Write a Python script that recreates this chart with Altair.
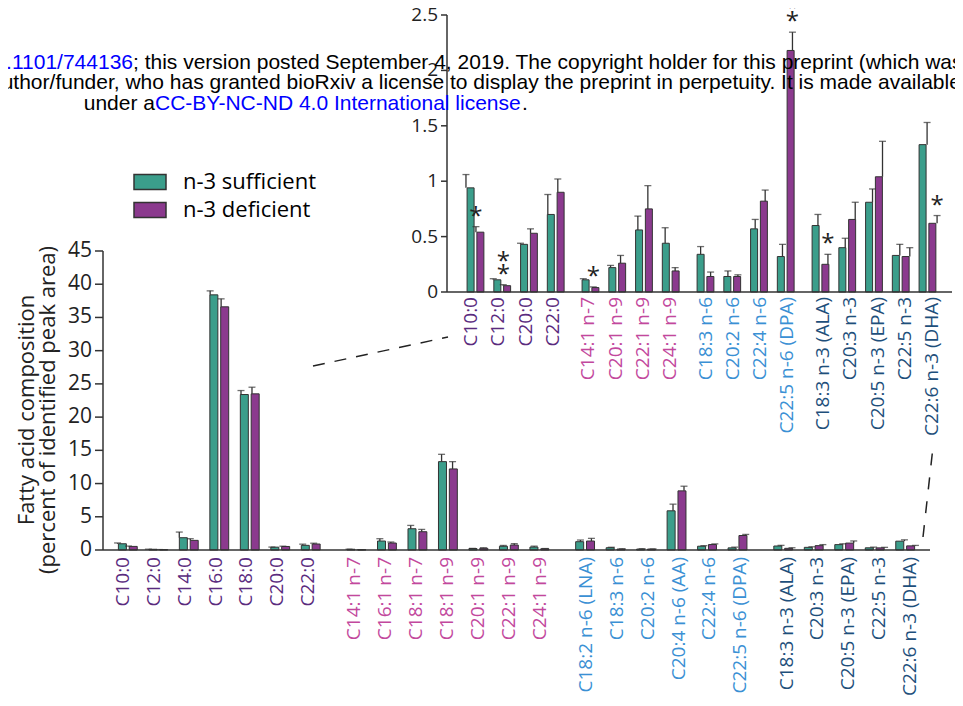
import altair as alt
import pandas as pd

# ---------------- data ----------------
categories = ["C10:0", "C12:0", "C14:0", "C16:0", "C18:0", "C20:0", "C22:0",
              "C14:1 n-7", "C16:1 n-7", "C18:1 n-7", "C18:1 n-9", "C20:1 n-9", "C22:1 n-9", "C24:1 n-9",
              "C18:2 n-6 (LNA)", "C18:3 n-6", "C20:2 n-6", "C20:4 n-6 (AA)", "C22:4 n-6", "C22:5 n-6 (DPA)",
              "C18:3 n-3 (ALA)", "C20:3 n-3", "C20:5 n-3 (EPA)", "C22:5 n-3", "C22:6 n-3 (DHA)"]
category_group = ["sat"] * 7 + ["mono"] * 7 + ["n6"] * 6 + ["n3"] * 5

suff_mean = [0.94, 0.11, 1.85, 38.4, 23.4, 0.43, 0.70,
             0.11, 1.35, 3.2, 13.3, 0.22, 0.56, 0.44,
             1.25, 0.34, 0.14, 5.9, 0.57, 0.32,
             0.60, 0.40, 0.81, 0.33, 1.33]
suff_sem = [0.12, 0.01, 0.85, 0.6, 0.6, 0.01, 0.18,
            0.01, 0.35, 0.5, 1.1, 0.02, 0.125, 0.14,
            0.25, 0.07, 0.05, 1.0, 0.085, 0.11,
            0.10, 0.085, 0.12, 0.10, 0.20]
def_mean = [0.54, 0.057, 1.45, 36.6, 23.5, 0.53, 0.90,
            0.04, 1.05, 2.75, 12.2, 0.26, 0.75, 0.19,
            1.35, 0.14, 0.14, 8.9, 0.82, 2.18,
            0.25, 0.655, 1.04, 0.32, 0.62]
def_sem = [0.05, 0.009, 0.25, 1.2, 1.0, 0.04, 0.12,
           0.006, 0.15, 0.35, 1.1, 0.07, 0.21, 0.03,
           0.4, 0.04, 0.015, 0.7, 0.10, 0.165,
           0.09, 0.155, 0.32, 0.08, 0.07]

inset_categories = ["C10:0", "C12:0", "C20:0", "C22:0",
                    "C14:1 n-7", "C20:1 n-9", "C22:1 n-9", "C24:1 n-9",
                    "C18:3 n-6", "C20:2 n-6", "C22:4 n-6", "C22:5 n-6 (DPA)",
                    "C18:3 n-3 (ALA)", "C20:3 n-3", "C20:5 n-3 (EPA)", "C22:5 n-3", "C22:6 n-3 (DHA)"]

star_categories = ["C10:0", "C12:0", "C14:1 n-7", "C22:5 n-6 (DPA)", "C18:3 n-3 (ALA)", "C22:6 n-3 (DHA)"]
star_counts = [1, 2, 1, 2, 1, 1]

diet_labels = ["n-3 sufficient", "n-3 deficient"]
main_ticks = [0, 5, 10, 15, 20, 25, 30, 35, 40, 45]
inset_ticks = [0, 0.5, 1, 1.5, 2, 2.5]
inset_tick_labels = ["0", "0.5", "1", "1.5", "2", "2.5"]

y_title_lines = ["Fatty acid composition", "(percent of identified peak area)"]

# ---------------- styles ----------------
GREEN = "#3b9e8b"
PURPLE = "#8b3a8e"
EDGE = "#333333"
FONT = "Open Sans"
group_names = ["sat", "mono", "n6", "n3"]
group_colors = ["#5a2b7e", "#c2489d", "#3a90d4", "#1e4f7b"]

W, H = 947, 690

main_starts = {"sat": 0, "mono": 7.5, "n6": 15, "n3": 21.5}
inset_starts = {"sat": 0, "mono": 4.3, "n6": 8.6, "n3": 12.9}

main_x = alt.Scale(domain=[-0.65, 26.15], range=[95, 922], nice=False, zero=False)
main_y = alt.Scale(domain=[0, 45], range=[542, 243], nice=False, zero=False)
inset_x = alt.Scale(domain=[-0.878, 17.63], range=[439, 944], nice=False, zero=False)
inset_y = alt.Scale(domain=[0, 2.5], range=[284, 7], nice=False, zero=False)


def positions(cats, starts):
    pos, count = [], {}
    for c in cats:
        g = category_group[categories.index(c)]
        j = count.get(g, 0)
        count[g] = j + 1
        pos.append(starts[g] + j)
    return pos


def build(cats, starts, off):
    pos = positions(cats, starts)
    bars, labels = [], []
    for c, p in zip(cats, pos):
        i = categories.index(c)
        g = category_group[i]
        labels.append({"cat": c, "grp": g, "pos": p})
        bars.append({"cat": c, "diet": diet_labels[0], "bx": p - off,
                     "mean": suff_mean[i], "top": suff_mean[i] + suff_sem[i]})
        bars.append({"cat": c, "diet": diet_labels[1], "bx": p + off,
                     "mean": def_mean[i], "top": def_mean[i] + def_sem[i]})
    return pd.DataFrame(bars), pd.DataFrame(labels)


main_bars, main_labels = build(categories, main_starts, 0.178)
inset_bars, inset_labels = build(inset_categories, inset_starts, 0.183)


def panel(bars, labels, xs, ys, bw, label_y, show_legend, xdom):
    layers = []
    legend = alt.Legend(orient="none", legendX=125, legendY=157, title=None,
                        symbolType="M-1,-0.47H1V0.47H-1Z", symbolSize=1024,
                        symbolStrokeColor=EDGE, symbolStrokeWidth=1.5, symbolOpacity=1,
                        labelFont=FONT, labelFontSize=22, labelColor="black",
                        labelOffset=16, rowPadding=-5, symbolOffset=0) if show_legend else None
    layers.append(alt.Chart(bars).mark_bar(size=bw, stroke=EDGE, strokeWidth=1, orient="vertical").encode(
        x=alt.X("bx:Q", scale=xs, axis=None),
        y=alt.Y("mean:Q", scale=ys, axis=None),
        y2=alt.datum(0),
        color=alt.Color("diet:N", scale=alt.Scale(domain=diet_labels, range=[GREEN, PURPLE]),
                        legend=legend),
    ))
    layers.append(alt.Chart(bars).mark_rule(color=EDGE, strokeWidth=1.3).encode(
        x=alt.X("bx:Q", scale=xs, axis=None),
        y=alt.Y("mean:Q", scale=ys, axis=None),
        y2="top:Q",
    ))
    layers.append(alt.Chart(bars).mark_tick(orient="horizontal", size=7, thickness=1.3, color=EDGE).encode(
        x=alt.X("bx:Q", scale=xs, axis=None),
        y=alt.Y("top:Q", scale=ys, axis=None),
    ))
    layers.append(alt.Chart(labels).mark_text(angle=270, align="right", baseline="middle",
                                              font=FONT, fontSize=19).encode(
        x=alt.X("pos:Q", scale=xs, axis=None),
        y=alt.value(label_y),
        text="cat:N",
        color=alt.Color("grp:N", scale=alt.Scale(domain=group_names, range=group_colors), legend=None),
    ))
    # axis lines
    ax = pd.DataFrame({"x0": [xdom[0]], "x1": [xdom[1]], "y0": [ys.domain[0]], "y1": [ys.domain[1]]})
    layers.append(alt.Chart(ax).mark_rule(color=EDGE, strokeWidth=1.5).encode(
        x=alt.X("x0:Q", scale=xs, axis=None), x2="x1:Q",
        y=alt.Y("y0:Q", scale=ys, axis=None),
    ))
    layers.append(alt.Chart(ax).mark_rule(color=EDGE, strokeWidth=1.5).encode(
        x=alt.X("x0:Q", scale=xs, axis=None),
        y=alt.Y("y0:Q", scale=ys, axis=None), y2="y1:Q",
    ))
    return layers


layers = []
layers += panel(main_bars, main_labels, main_x, main_y, 8, 549, True, [-0.65, 26.15])
layers += panel(inset_bars, inset_labels, inset_x, inset_y, 7, 289, False, [-0.878, 17.63])

# y axis ticks and labels
mt = pd.DataFrame({"v": main_ticks, "lab": [str(t) for t in main_ticks]})
layers.append(alt.Chart(mt).mark_rule(color=EDGE, strokeWidth=1.5).encode(
    x=alt.value(87), x2=alt.value(95), y=alt.Y("v:Q", scale=main_y, axis=None)))
layers.append(alt.Chart(mt).mark_text(align="right", baseline="middle", font=FONT, fontSize=21,
                                      color="#222").encode(
    x=alt.value(84), y=alt.Y("v:Q", scale=main_y, axis=None), text="lab:N"))
it = pd.DataFrame({"v": inset_ticks, "lab": inset_tick_labels})
layers.append(alt.Chart(it).mark_rule(color=EDGE, strokeWidth=1.5).encode(
    x=alt.value(433), x2=alt.value(439), y=alt.Y("v:Q", scale=inset_y, axis=None)))
layers.append(alt.Chart(it).mark_text(align="right", baseline="middle", font=FONT, fontSize=19,
                                      color="#222").encode(
    x=alt.value(430), y=alt.Y("v:Q", scale=inset_y, axis=None), text="lab:N"))

# significance stars (on deficient bars in inset)
inset_pos = dict(zip(inset_categories, positions(inset_categories, inset_starts)))
star_rows = []
for c, n in zip(star_categories, star_counts):
    i = categories.index(c)
    top = def_mean[i] + def_sem[i]
    for k in range(n):
        star_rows.append({"x": inset_pos[c] + 0.183, "y": top + (16 + 13 * k) / 110.8, "s": "*"})
layers.append(alt.Chart(pd.DataFrame(star_rows)).mark_text(
    font=FONT, fontSize=24, baseline="middle", dy=6, color="#222").encode(
    x=alt.X("x:Q", scale=inset_x, axis=None), y=alt.Y("y:Q", scale=inset_y, axis=None), text="s:N"))

# y axis title
for txt, xx in zip(y_title_lines, [19, 40]):
    layers.append(alt.Chart(pd.DataFrame({"t": [txt]})).mark_text(
        angle=270, align="center", baseline="middle", font=FONT, fontSize=22, color="#222").encode(
        x=alt.value(xx), y=alt.value(402), text="t:N"))

# dashed connector lines
layers.append(alt.Chart(pd.DataFrame({"a": [0]})).mark_rule(
    color="#222", strokeWidth=1.5, strokeDash=[12, 10]).encode(
    x=alt.value(305), y=alt.value(358), x2=alt.value(440), y2=alt.value(329)))
layers.append(alt.Chart(pd.DataFrame({"a": [0]})).mark_rule(
    color="#222", strokeWidth=1.5, strokeDash=[12, 12]).encode(
    x=alt.value(915), y=alt.value(529), x2=alt.value(925), y2=alt.value(439)))

# bioRxiv watermark text
WM = "Liberation Sans"
wm = [
    ("0.1101/744136", 125, 61, "right", "#0000ff"),
    ("; this version posted September 4, 2019. The copyright holder for this preprint (which was", 125, 61, "left", "black"),
    ("author/funder, who has granted bioRxiv a license to display the preprint in perpetuity. It is made available", -18, 81, "left", "black"),
    ("under a", 147, 102, "right", "black"),
    ("CC-BY-NC-ND 4.0 International license", 147, 102, "left", "#0000ff"),
    (".", 514, 102, "left", "black"),
]
for txt, xx, yy, al, col in wm:
    layers.append(alt.Chart(pd.DataFrame({"t": [txt]})).mark_text(
        align=al, baseline="alphabetic", font=WM, fontSize=21, color=col).encode(
        x=alt.value(xx), y=alt.value(yy), text="t:N"))

chart = alt.layer(*layers).properties(
    width=W, height=H, padding=0, autosize=alt.AutoSizeParams(type="none")
).resolve_scale(x="independent", y="independent", color="independent").configure_view(stroke=None)

chart.save("out.html", embed_options={"renderer": "svg", "actions": False})
